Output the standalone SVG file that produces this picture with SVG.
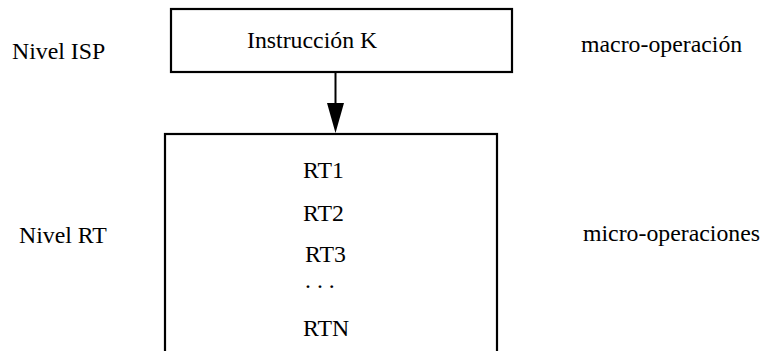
<svg xmlns="http://www.w3.org/2000/svg" width="764" height="351" viewBox="0 0 764 351">
<style>
.box{fill:none;stroke:#000;stroke-width:2.2}
</style>
<rect width="764" height="351" fill="#fff"/>
<g font-family="Liberation Serif, DejaVu Serif, serif" font-size="23.8" fill="#000">
<text x="12" y="59">Nivel ISP</text>
<text x="19" y="243">Nivel RT</text>
<text x="581" y="52">macro-operación</text>
<text x="583" y="241">micro-operaciones</text>
<g id="instruccion">
<rect class="box" x="171" y="9" width="341" height="63"/>
<text x="247" y="48">Instrucción K</text>
</g>
<g id="rt">
<rect class="box" x="165" y="134" width="332" height="240"/>
<text x="303" y="178">RT1</text>
<text x="303" y="221">RT2</text>
<text x="305" y="262">RT3</text>
<text x="305" y="288">. . .</text>
<text x="303" y="336">RTN</text>
</g>
</g>
<g id="connectors">
<line x1="335.5" y1="72" x2="335.5" y2="104" stroke="#000" stroke-width="2"/>
<polygon points="327,103 344,103 335.5,133" fill="#000"/>
</g>
</svg>
